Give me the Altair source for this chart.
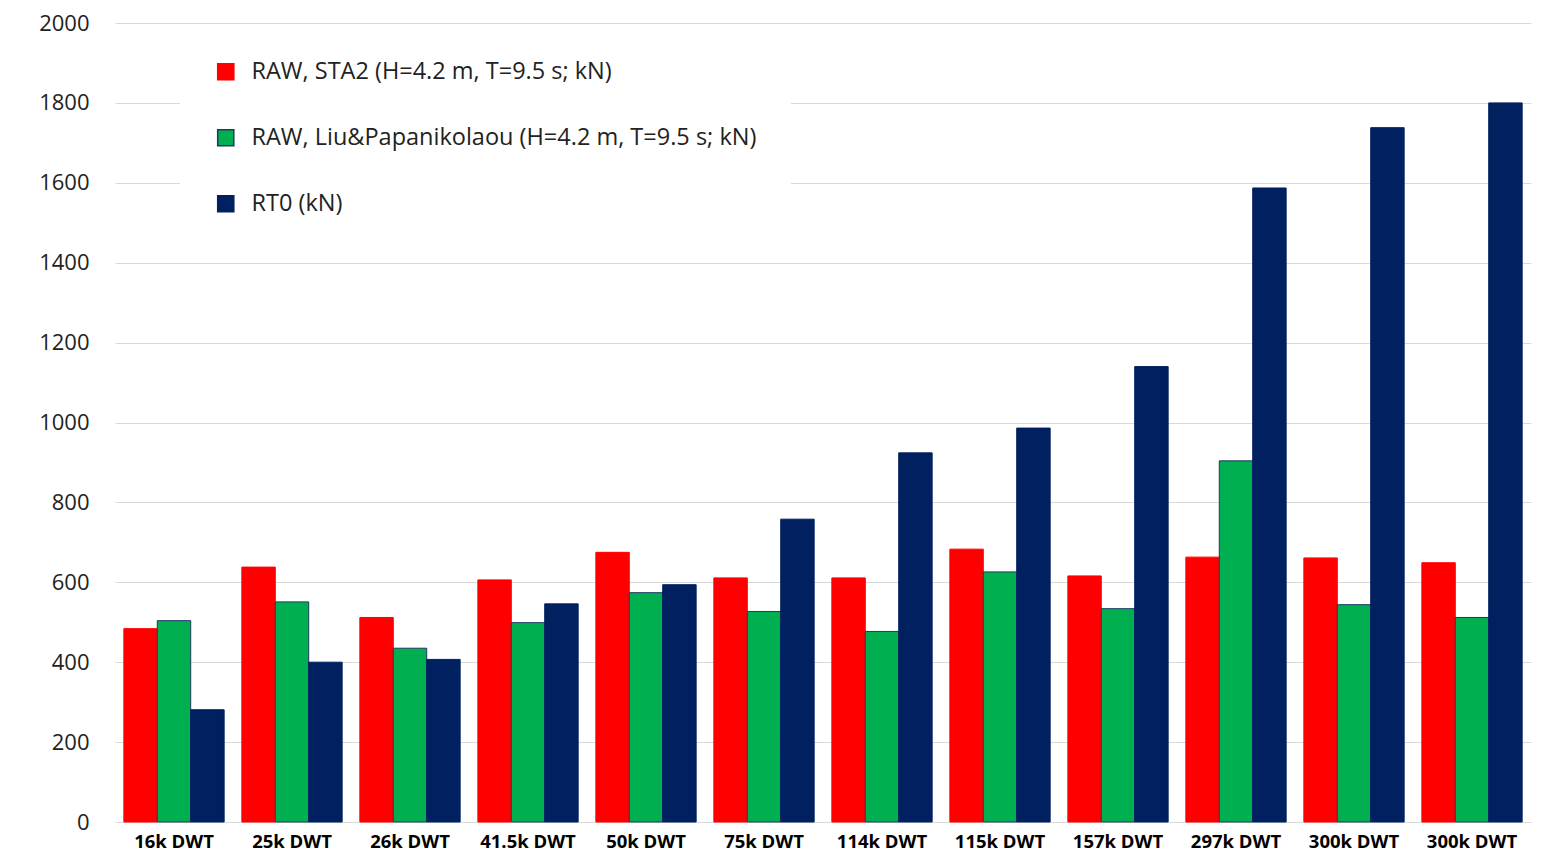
import altair as alt
import pandas as pd

ships = ['16k DWT', '25k DWT', '26k DWT', '41.5k DWT', '50k DWT', '75k DWT',
         '114k DWT', '115k DWT', '157k DWT', '297k DWT', '300k DWT', '300k DWT']
series = ['RAW, STA2 (H=4.2 m, T=9.5 s; kN)',
          'RAW, Liu&Papanikolaou (H=4.2 m, T=9.5 s; kN)',
          'RT0 (kN)']
raw_sta2 = [484, 638, 512, 606, 675, 611, 611, 683, 616, 663, 661, 649]
raw_liu = [504, 551, 435, 499, 574, 527, 477, 626, 534, 904, 544, 512]
rt0 = [281, 400, 407, 546, 594, 758, 924, 986, 1140, 1587, 1738, 1800]

rows = []
for i, ship in enumerate(ships):
    for s, vals in zip(series, [raw_sta2, raw_liu, rt0]):
        rows.append({'idx': i, 'ship': ship, 'series': s, 'value': vals[i]})
df = pd.DataFrame(rows)

# two categories share the label "300k DWT", so the axis uses the index
label_expr = '[' + ','.join("'%s'" % s for s in ships) + '][datum.value]'

fills = ['#FF0000', '#00B050', '#002060']
strokes = ['#FF0000', '#1F3864', '#002060']

legend = alt.Legend(
    title=None, orient='none', legendX=65, legendY=3,
    fillColor='white', padding=34, symbolType='square', symbolSize=260,
    labelFontSize=23.5, labelFont='Open Sans', labelColor='#222',
    labelOffset=14, rowPadding=41, labelLimit=800
)

chart = alt.Chart(df).mark_bar(strokeWidth=1).encode(
    x=alt.X('idx:O', title=None,
            scale=alt.Scale(paddingInner=0.15, paddingOuter=0.075),
            axis=alt.Axis(labelExpr=label_expr, labelAngle=0, labelFont='Open Sans',
                          labelFontSize=18.5, labelFontWeight='bold', labelColor='black',
                          labelPadding=10, ticks=False, domain=False, grid=False)),
    xOffset=alt.XOffset('series:N', sort=series),
    y=alt.Y('value:Q', title=None,
            scale=alt.Scale(domain=[0, 2000]),
            axis=alt.Axis(values=list(range(0, 2001, 200)), format='d', labelFont='Open Sans',
                          labelFontSize=22, labelColor='#222', labelPadding=26,
                          ticks=False, domain=False, gridColor='#D9D9D9', gridWidth=1.2)),
    fill=alt.Fill('series:N', sort=series,
                  scale=alt.Scale(domain=series, range=fills), legend=legend),
    stroke=alt.Stroke('series:N', sort=series,
                      scale=alt.Scale(domain=series, range=strokes), legend=legend),
).properties(
    width=1416, height=799,
    autosize=alt.AutoSizeParams(type='none'),
    padding={'left': 107, 'top': 15, 'right': 15, 'bottom': 40}
).configure_view(stroke=None)

chart.save("out.html", embed_options={"renderer": "svg", "actions": False})
